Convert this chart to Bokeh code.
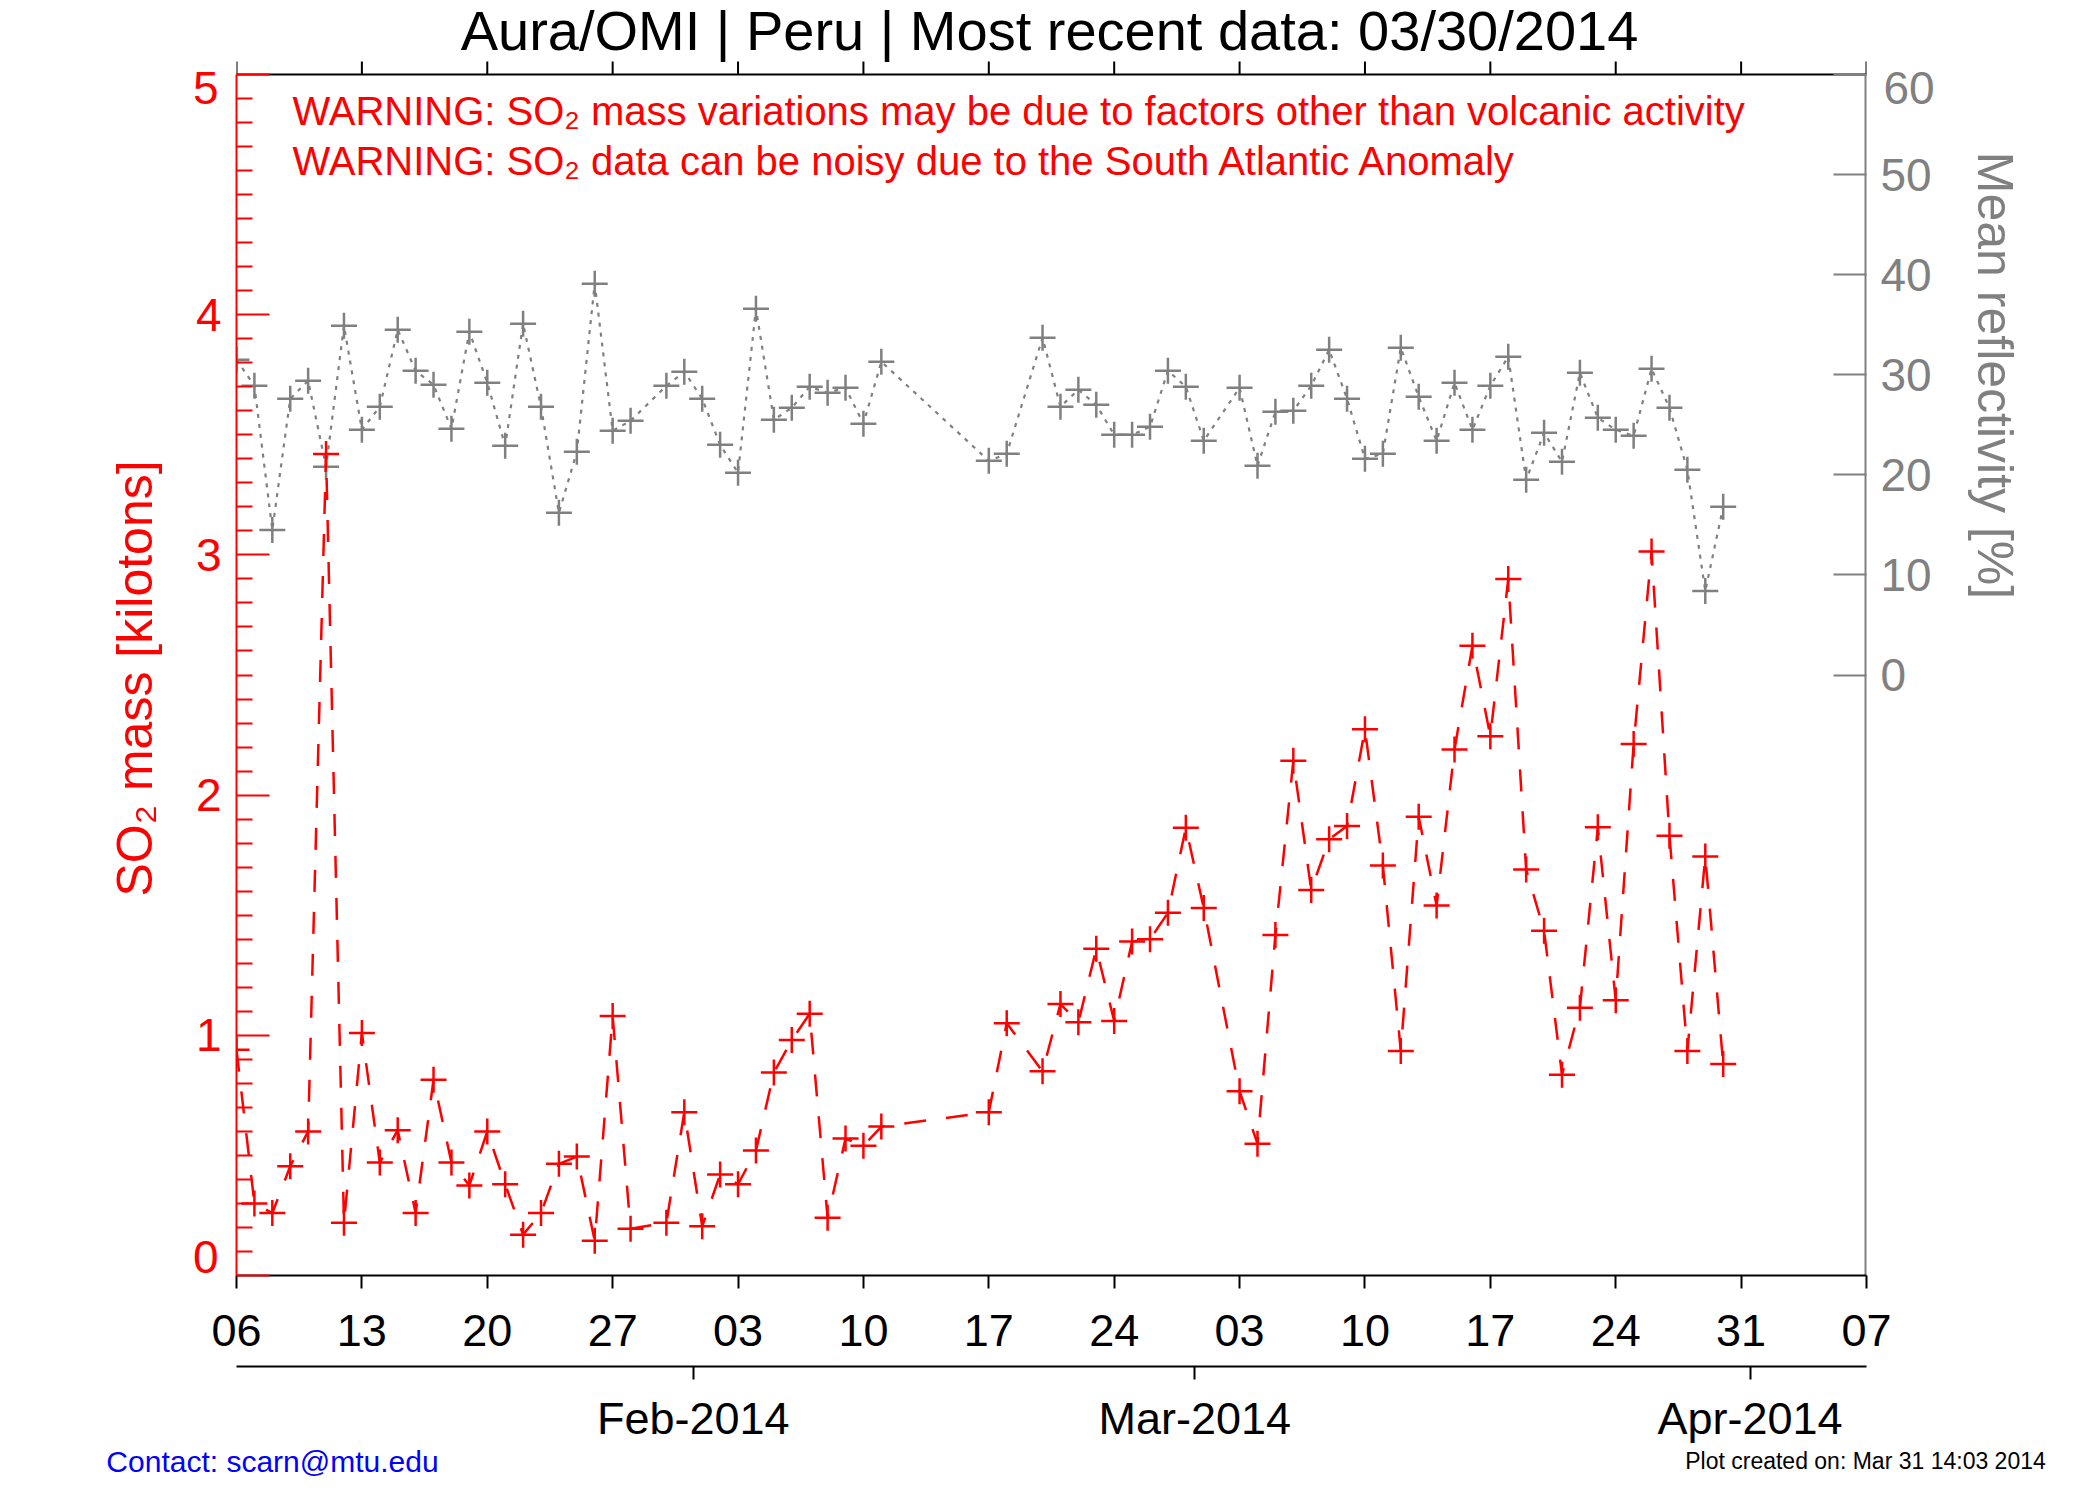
import datetime as dt

from bokeh.plotting import figure
from bokeh.models import Range1d, LinearAxis, FixedTicker, Label, Span
from bokeh.embed import file_html
from bokeh.resources import INLINE

# ---------------- data ----------------
title_text = "Aura/OMI | Peru | Most recent data: 03/30/2014"
warning_1 = "WARNING: SO\u2082 mass variations may be due to factors other than volcanic activity"
warning_2 = "WARNING: SO\u2082 data can be noisy due to the South Atlantic Anomaly"
left_title = "SO\u2082 mass [kilotons]"
right_title = "Mean reflectivity [%]"
contact_text = "Contact: scarn@mtu.edu"
created_text = "Plot created on: Mar 31 14:03 2014"

dates = [
    "2014-01-06", "2014-01-07", "2014-01-08", "2014-01-09", "2014-01-10", "2014-01-11",
    "2014-01-12", "2014-01-13", "2014-01-14", "2014-01-15", "2014-01-16", "2014-01-17",
    "2014-01-18", "2014-01-19", "2014-01-20", "2014-01-21", "2014-01-22", "2014-01-23",
    "2014-01-24", "2014-01-25", "2014-01-26", "2014-01-27", "2014-01-28",
    "2014-01-30", "2014-01-31", "2014-02-01", "2014-02-02", "2014-02-03", "2014-02-04",
    "2014-02-05", "2014-02-06", "2014-02-07", "2014-02-08", "2014-02-09", "2014-02-10",
    "2014-02-11",
    "2014-02-17", "2014-02-18",
    "2014-02-20", "2014-02-21", "2014-02-22", "2014-02-23", "2014-02-24", "2014-02-25",
    "2014-02-26", "2014-02-27", "2014-02-28", "2014-03-01",
    "2014-03-03", "2014-03-04", "2014-03-05", "2014-03-06", "2014-03-07", "2014-03-08",
    "2014-03-09", "2014-03-10", "2014-03-11", "2014-03-12", "2014-03-13", "2014-03-14",
    "2014-03-15", "2014-03-16", "2014-03-17", "2014-03-18", "2014-03-19", "2014-03-20",
    "2014-03-21", "2014-03-22", "2014-03-23", "2014-03-24", "2014-03-25", "2014-03-26",
    "2014-03-27", "2014-03-28", "2014-03-29", "2014-03-30",
]

so2_mass = [
    0.94, 0.30, 0.26, 0.455, 0.60, 3.42,
    0.22, 1.01, 0.47, 0.605, 0.26, 0.815,
    0.47, 0.375, 0.60, 0.38, 0.17, 0.26,
    0.465, 0.495, 0.145, 1.08, 0.195,
    0.22, 0.68, 0.205, 0.42, 0.38, 0.52,
    0.845, 0.98, 1.09, 0.24, 0.57, 0.54,
    0.62,
    0.68, 1.05,
    0.85, 1.13, 1.054, 1.36, 1.06, 1.39,
    1.40, 1.51, 1.864, 1.53,
    0.767, 0.549, 1.418, 2.143, 1.605, 1.816,
    1.871, 2.274, 1.707, 0.935, 1.91, 1.54,
    2.19, 2.622, 2.245, 2.90, 1.69, 1.435,
    0.836, 1.115, 1.866, 1.146, 2.213, 3.014,
    1.831, 0.935, 1.744, 0.88,
]

reflectivity = [
    31.5, 28.9, 14.5, 27.6, 29.4, 20.8,
    34.9, 24.5, 26.8, 34.5, 30.4, 29.0,
    24.6, 34.3, 29.2, 22.9, 35.1, 26.8,
    16.2, 22.3, 39.1, 24.4, 25.4,
    28.9, 30.3, 27.6, 23.0, 20.2, 36.6,
    25.5, 26.7, 28.8, 28.2, 28.7, 25.1,
    31.3,
    21.4, 22.1,
    33.7, 26.8, 28.5, 27.0, 24.0, 24.0,
    24.8, 30.4, 28.8, 23.4,
    28.7, 20.9, 26.3, 26.4, 28.9, 32.5,
    27.6, 21.6, 22.1, 32.7, 27.8, 23.4,
    29.2, 24.5, 28.9, 31.8, 19.5, 24.2,
    21.3, 30.2, 25.7, 24.5, 23.9, 30.6,
    26.7, 20.5, 8.4, 16.8,
]

axis_start = "2014-01-06"
axis_end = "2014-04-07"
day_ticks = ["2014-01-06", "2014-01-13", "2014-01-20", "2014-01-27", "2014-02-03",
             "2014-02-10", "2014-02-17", "2014-02-24", "2014-03-03", "2014-03-10",
             "2014-03-17", "2014-03-24", "2014-03-31", "2014-04-07"]
day_tick_labels = ["06", "13", "20", "27", "03", "10", "17", "24", "03", "10",
                   "17", "24", "31", "07"]
month_ticks = ["2014-02-01", "2014-03-01", "2014-04-01"]
month_labels = ["Feb-2014", "Mar-2014", "Apr-2014"]
so2_ticks = [0, 1, 2, 3, 4, 5]
refl_ticks = [0, 10, 20, 30, 40, 50, 60]
refl_range = (-60, 60)

# ---------------- helpers ----------------
t0 = dt.date.fromisoformat(axis_start)


def day(s):
    return (dt.date.fromisoformat(s) - t0).days


x = [day(d) for d in dates]
x_end = day(axis_end)
day_pos = [day(d) for d in day_ticks]
month_pos = [day(d) for d in month_ticks]

FONT = "Liberation Sans"
RED = "#ff0000"
GRAY = "#808080"

# canvas geometry: the IDL plot box is x 236..1866, y 74..1275;
# the Bokeh frame is extended upward to the canvas top so the title fits inside it.
W, H = 2092, 1492
BOX_L, BOX_R, BOX_T, BOX_B = 236, 1866, 74, 1275
so2_lo, so2_hi = so2_ticks[0], so2_ticks[-1]
px_per_so2 = (BOX_B - BOX_T) / (so2_hi - so2_lo)
px_per_refl = (BOX_B - BOX_T) / (refl_range[1] - refl_range[0])
so2_top = so2_hi + BOX_T / px_per_so2
refl_top = refl_range[1] + BOX_T / px_per_refl
px_per_day = (BOX_R - BOX_L) / x_end

p = figure(width=W, height=H, output_backend="svg", toolbar_location=None,
           x_range=Range1d(0, x_end), y_range=Range1d(so2_lo, so2_top),
           x_axis_type=None, y_axis_type=None,
           min_border_left=BOX_L, min_border_right=W - BOX_R,
           min_border_top=0, min_border_bottom=H - BOX_B)
p.title.text = ""
p.title.visible = False
try:
    p.title_location = None
except Exception:
    pass
p.outline_line_color = None
p.background_fill_color = "white"
p.border_fill_color = "white"
p.extra_y_ranges = {"refl": Range1d(refl_range[0], refl_top),
                    "ypx": Range1d(BOX_B, 0)}
# month ticks sit half a day before the date (julian-day convention of the original)
p.extra_x_ranges = {"month": Range1d(0.5, x_end + 0.5),
                    "px": Range1d(BOX_L, BOX_R)}


def base_axis(ax, color="black"):
    ax.axis_label_text_font = FONT
    ax.axis_label_text_font_style = "normal"
    ax.major_label_text_font = FONT
    ax.axis_line_color = color
    ax.axis_line_width = 2
    ax.major_tick_line_color = color
    ax.major_tick_line_width = 2
    ax.minor_tick_line_color = None
    return ax


def text_axis(ax, color, size, standoff, orientation=None):
    """Axis used only to carry text labels (no line, no ticks)."""
    ax.major_label_text_font = FONT
    ax.axis_line_color = None
    ax.major_tick_line_color = None
    ax.minor_tick_line_color = None
    ax.major_tick_in = 0
    ax.major_tick_out = 0
    ax.major_label_text_color = color
    ax.major_label_text_font_size = size
    ax.major_label_standoff = standoff
    if orientation is not None:
        ax.major_label_orientation = orientation
    return ax


# ---- left axis (SO2 mass), over the plot box only ----
minor = [i / 10 for i in range(so2_lo * 10, so2_hi * 10 + 1) if i % 10]
ya = base_axis(LinearAxis(ticker=FixedTicker(ticks=so2_ticks, minor_ticks=minor),
                          bounds=(so2_lo, so2_hi),
                          major_label_overrides={so2_lo: "", so2_hi: ""}), RED)
ya.major_tick_in = 33
ya.major_tick_out = 0
ya.minor_tick_line_color = RED
ya.minor_tick_line_width = 2
ya.minor_tick_in = 16
ya.minor_tick_out = 0
ya.major_label_text_color = RED
ya.major_label_text_font_size = "46px"
ya.major_label_standoff = 15
p.add_layout(ya, "left")

# end labels "5" and "0" drawn slightly inside the box, as in the original
y_end = text_axis(LinearAxis(y_range_name="ypx",
                             ticker=FixedTicker(ticks=[87, 1256], minor_ticks=[]),
                             major_label_overrides={87: str(so2_hi), 1256: str(so2_lo)}),
                  RED, "46px", -26)
p.add_layout(y_end, "left")

# left title, centred at canvas y 678
yl = text_axis(LinearAxis(y_range_name="ypx", ticker=FixedTicker(ticks=[678], minor_ticks=[]),
                          major_label_overrides={678: left_title}),
               RED, "50px", 27, "parallel")
p.add_layout(yl, "left")

# ---- right axis (reflectivity), labelled over 0..60 ----
yr = base_axis(LinearAxis(y_range_name="refl",
                          ticker=FixedTicker(ticks=refl_ticks, minor_ticks=[]),
                          bounds=(refl_ticks[0], refl_ticks[-1]),
                          major_label_overrides={refl_ticks[-1]: ""}), GRAY)
yr.axis_line_color = None
yr.major_tick_in = 33
yr.major_tick_out = 0
yr.major_label_text_color = GRAY
yr.major_label_text_font_size = "46px"
yr.major_label_standoff = 14
p.add_layout(yr, "right")

r_end = text_axis(LinearAxis(y_range_name="ypx", ticker=FixedTicker(ticks=[87], minor_ticks=[]),
                             major_label_overrides={87: str(refl_ticks[-1])}),
                  GRAY, "46px", -51)
p.add_layout(r_end, "right")

# right title, centred over the 0..60 part (canvas y 375)
yt = text_axis(LinearAxis(y_range_name="ypx", ticker=FixedTicker(ticks=[375], minor_ticks=[]),
                          major_label_overrides={375: right_title}),
               GRAY, "50px", 29, "parallel")
p.add_layout(yt, "right")

# ---- bottom day axis ----
xb = base_axis(LinearAxis(ticker=FixedTicker(ticks=day_pos, minor_ticks=[]),
                          major_label_overrides={k: v for k, v in zip(day_pos, day_tick_labels)}))
xb.major_tick_in = 0
xb.major_tick_out = 13
xb.major_label_text_color = "black"
xb.major_label_text_font_size = "45px"
xb.major_label_standoff = 26
# blank spacer that pushes the month axis further down
xb.axis_label = " "
xb.axis_label_text_font_size = "10px"
xb.axis_label_standoff = 4
p.add_layout(xb, "below")

# ---- month axis ----
xm = base_axis(LinearAxis(x_range_name="month",
                          ticker=FixedTicker(ticks=month_pos, minor_ticks=[]),
                          major_label_overrides={k: v for k, v in zip(month_pos, month_labels)}))
xm.major_tick_in = 0
xm.major_tick_out = 13
xm.major_label_text_color = "black"
xm.major_label_text_font_size = "45px"
xm.major_label_standoff = 13
p.add_layout(xm, "below")

# ---- footer texts (label-only axes, positioned in canvas px) ----
contact_c = 272
created_c = 1865
xc = text_axis(LinearAxis(x_range_name="px", ticker=FixedTicker(ticks=[contact_c], minor_ticks=[]),
                          major_label_overrides={contact_c: contact_text}),
               "#0000ff", "30px", -2)
p.add_layout(xc, "below")
xd = text_axis(LinearAxis(x_range_name="px", ticker=FixedTicker(ticks=[created_c], minor_ticks=[]),
                          major_label_overrides={created_c: created_text}),
               "black", "23px", -33)
p.add_layout(xd, "below")

# ---- plot-box frame lines and top ticks ----
p.add_layout(Span(location=so2_hi, dimension="width", line_color="black", line_width=2,
                  level="underlay"))
p.segment(x0=day_pos, y0=[so2_hi] * len(day_pos), x1=day_pos,
          y1=[so2_hi + 13 / px_per_so2] * len(day_pos), line_color="black", line_width=2)
p.line([x_end, x_end], [refl_range[0], refl_range[1]], y_range_name="refl",
       line_color=GRAY, line_width=4)

# ---------------- data glyphs ----------------
p.line(x, reflectivity, y_range_name="refl", line_color=GRAY, line_width=2.2,
       line_dash="4 6")
p.scatter(x, reflectivity, y_range_name="refl", marker="cross", size=26,
          line_color=GRAY, line_width=2.5)
p.line(x, so2_mass, line_color=RED, line_width=2.5, line_dash="22 20")
p.scatter(x, so2_mass, marker="cross", size=26, line_color=RED, line_width=2.5)


# ---------------- texts inside the frame (anchored at their visual middle) ----------------
def y_at(canvas_y):
    return so2_hi + (BOX_T - canvas_y) / px_per_so2


p.add_layout(Label(x=(1049 - BOX_L) / px_per_day, y=y_at(30),
                   text=title_text, text_font=FONT, text_font_size="56px",
                   text_color="black", text_align="center", text_baseline="alphabetic"))
for txt, cy in ((warning_1, 110.5), (warning_2, 160)):
    p.add_layout(Label(x=(292 - BOX_L) / px_per_day, y=y_at(cy), text=txt, text_font=FONT,
                       text_font_size="40px", text_color=RED, text_align="left",
                       text_baseline="alphabetic"))

open("out.html", "w").write(file_html(p, INLINE))
